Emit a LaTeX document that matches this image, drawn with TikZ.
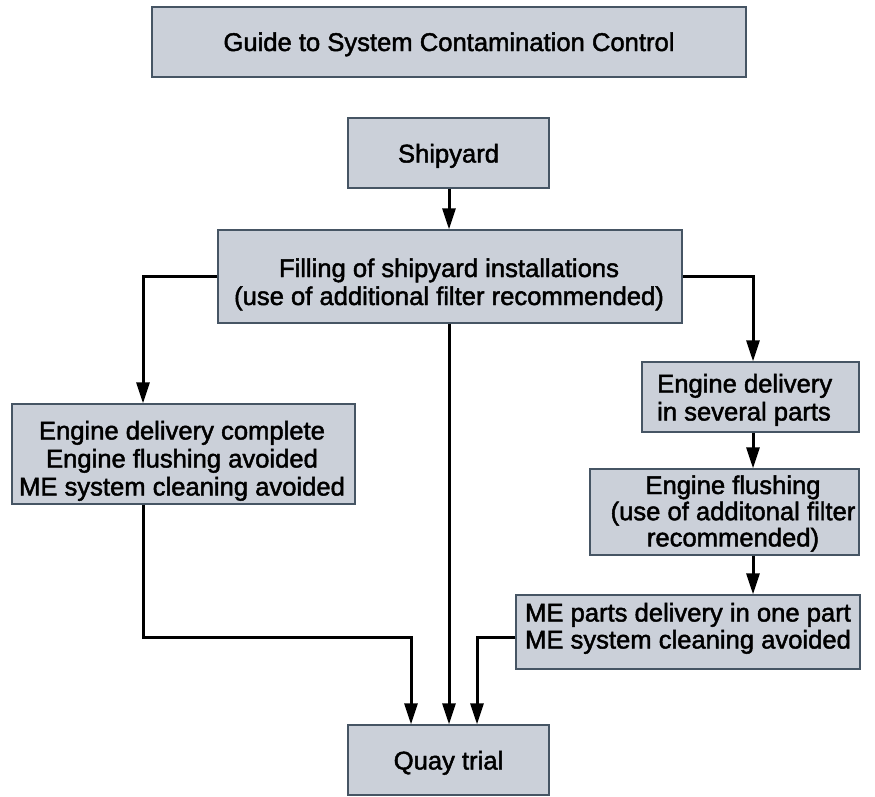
\documentclass[tikz,border=0pt]{standalone}
\usepackage{fontspec}
\setmainfont{Liberation Sans}
\newfontfamily\boxfont[RawFeature={embolden=1.8}]{Liberation Sans}
\usetikzlibrary{arrows.meta}
\definecolor{boxfill}{RGB}{203,208,217}
\definecolor{boxline}{RGB}{70,85,100}
% lines stacked in a tabular whose baseline is that of its first line
\newcommand\lines[2][c]{\begin{tabular}[t]{@{}#1@{}}#2\end{tabular}}
\begin{document}
\begin{tikzpicture}[x=1pt,y=-1pt,
  stepbox/.style={draw=boxline,fill=boxfill,line width=1.3pt,inner sep=0pt},
  steptext/.style={inner sep=0pt,anchor=base,font=\boxfont\fontsize{25.6}{28}\selectfont},
  flow/.style={line width=3pt,-{Triangle[length=21pt,width=13pt]}}]
\useasboundingbox (0,0) rectangle (875,796);

% boxes
\node[stepbox,minimum width=594pt,minimum height=70pt] (title) at (449,42) {};
\node[stepbox,minimum width=201pt,minimum height=70pt] (ship)  at (448.5,153) {};
\node[stepbox,minimum width=464pt,minimum height=93pt] (fill)  at (450,276.5) {};
\node[stepbox,minimum width=343pt,minimum height=100pt] (left) at (183.5,454) {};
\node[stepbox,minimum width=217pt,minimum height=70pt] (deliv) at (750.5,397) {};
\node[stepbox,minimum width=269pt,minimum height=86pt] (flush) at (724.5,512) {};
\node[stepbox,minimum width=344pt,minimum height=74pt] (me)    at (688,632) {};
\node[stepbox,minimum width=201pt,minimum height=70pt] (quay)  at (448.5,760) {};

% texts, placed by the baseline of their first line
\node[steptext] (title-t) at (449,51) {Guide to System Contamination Control};
\node[steptext] (ship-t)  at (448.5,162.5) {Shipyard};
\node[steptext] (fill-t)  at (449,277) {\lines{Filling of shipyard installations\\(use of additional filter recommended)}};
\node[steptext] (left-t)  at (182,439.5) {\lines{Engine delivery complete\\Engine flushing avoided\\ME system cleaning avoided}};
\node[steptext,anchor=base west] (deliv-t) at (657,392.5) {\lines[l]{Engine delivery\\in several parts}};
\node[steptext,font=\boxfont\fontsize{25.6}{25.5}\selectfont] (flush-t) at (733,494) {\lines{Engine flushing\\(use of additonal filter\\recommended)}};
\node[steptext,font=\boxfont\fontsize{25.6}{27}\selectfont] (me-t) at (688,621.5) {\lines{ME parts delivery in one part\\ME system cleaning avoided}};
\node[steptext] (quay-t)  at (448.5,769.5) {Quay trial};

% connector columns and the joining row
\coordinate (lx) at (143,0);
\coordinate (rx) at (753,0);
\coordinate (mx) at (449,0);
\coordinate (qa) at (411,0);
\coordinate (qc) at (477,0);
\coordinate (jy) at (0,637);

% connectors
\draw[flow] (mx |- ship.south) -- (mx |- fill.north);
\draw[flow] (fill.west) -| (lx |- left.north);
\draw[flow] (fill.east) -| (rx |- deliv.north);
\draw[flow] (rx |- deliv.south) -- (rx |- flush.north);
\draw[flow] (rx |- flush.south) -- (rx |- me.north);
\draw[flow] (mx |- fill.south) -- (mx |- quay.north);
\draw[flow] (lx |- left.south) -- (lx |- jy) -| (qa |- quay.north);
\draw[flow] (me.west |- jy) -| (qc |- quay.north);
\end{tikzpicture}
\end{document}
